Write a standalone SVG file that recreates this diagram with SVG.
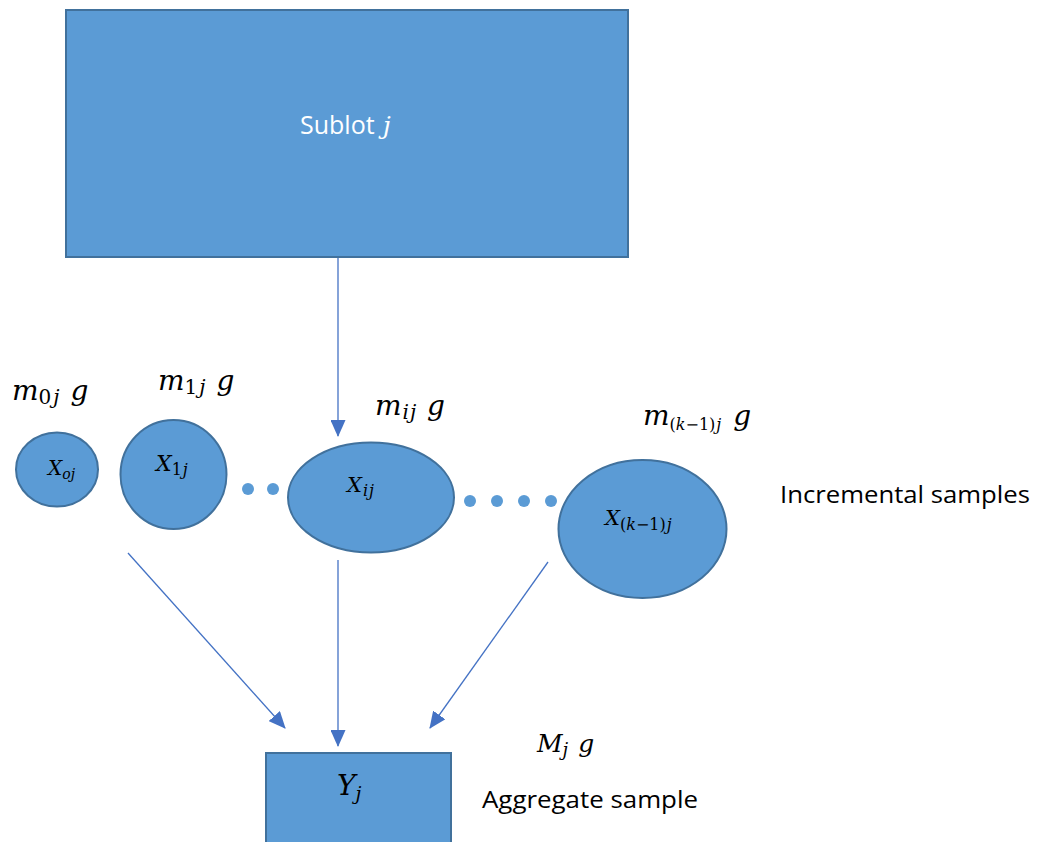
<svg xmlns="http://www.w3.org/2000/svg" width="1041" height="842" viewBox="0 0 1041 842">
  <style>
    .shape { fill: #5B9BD5; stroke: #41719C; stroke-width: 2; }
    .dot { fill: #5B9BD5; }
    .conn { stroke: #4472C4; stroke-width: 1.3; fill: none; marker-end: url(#arrow); }
    .math { font-family: "DejaVu Serif", "Liberation Serif", serif; font-style: italic; fill: #000; }
    .up { font-style: normal; }
    .label { font-family: "Open Sans", "Liberation Sans", sans-serif; fill: #000; }
  </style>
  <defs>
    <marker id="arrow" markerWidth="17" markerHeight="15" refX="16" refY="7.5" orient="auto" markerUnits="userSpaceOnUse">
      <path d="M0,0 L17,7.5 L0,15 Z" fill="#4472C4"/>
    </marker>
  </defs>

  <rect width="1041" height="842" fill="#FFFFFF"/>

  <!-- connectors -->
  <g id="connectors">
    <line class="conn" x1="338" y1="257" x2="338" y2="436"/>
    <line class="conn" x1="128" y1="553" x2="285" y2="728"/>
    <line class="conn" x1="338" y1="560" x2="338" y2="746"/>
    <line class="conn" x1="548" y1="562" x2="430" y2="728"/>
  </g>

  <!-- sublot -->
  <g id="sublot">
    <rect class="shape" x="66" y="10" width="562" height="247"/>
    <text x="300" y="134" font-family="Open Sans, Liberation Sans, sans-serif" font-size="25" fill="#FFFFFF">Sublot <tspan font-family="DejaVu Serif, serif" font-style="italic" dx="2">j</tspan></text>
  </g>

  <!-- incremental samples -->
  <g id="sample-0">
    <ellipse class="shape" cx="57" cy="469.5" rx="41" ry="37"/>
    <text class="math" x="48" y="475" font-size="20">X<tspan font-size="14" dy="4">oj</tspan></text>
    <text class="math" x="12" y="400" font-size="28">m<tspan class="up" font-size="20" dy="4">0</tspan><tspan font-size="20" dx="2">j</tspan><tspan dy="-4" dx="2"> g</tspan></text>
  </g>

  <g id="sample-1">
    <ellipse class="shape" cx="173.5" cy="474.5" rx="53" ry="54.5"/>
    <text class="math" x="156" y="471" font-size="22">X<tspan class="up" font-size="16" dy="4">1</tspan><tspan font-size="16" dx="1">j</tspan></text>
    <text class="math" x="158" y="390" font-size="28">m<tspan class="up" font-size="20" dy="4">1</tspan><tspan font-size="20" dx="2">j</tspan><tspan dy="-4" dx="2"> g</tspan></text>
  </g>

  <g id="dots-left">
    <circle class="dot" cx="248" cy="489" r="6"/>
    <circle class="dot" cx="273" cy="489" r="6"/>
  </g>

  <g id="sample-i">
    <ellipse class="shape" cx="371" cy="497.5" rx="83" ry="55"/>
    <text class="math" x="347" y="492" font-size="21">X<tspan font-size="16" dy="4" dx="1">i</tspan><tspan font-size="16" dx="1">j</tspan></text>
    <text class="math" x="375" y="415" font-size="28">m<tspan font-size="20" dy="4" dx="1">i</tspan><tspan font-size="20" dx="1">j</tspan><tspan dy="-4" dx="2"> g</tspan></text>
  </g>

  <g id="dots-right">
    <circle class="dot" cx="470" cy="501" r="6"/>
    <circle class="dot" cx="497" cy="501" r="6"/>
    <circle class="dot" cx="524" cy="501" r="6"/>
    <circle class="dot" cx="551" cy="501" r="6"/>
  </g>

  <g id="sample-k">
    <ellipse class="shape" cx="642.5" cy="529" rx="84" ry="69"/>
    <text class="math" x="605" y="525" font-size="21">X<tspan class="up" font-size="16" dy="5">(</tspan><tspan font-size="16">k</tspan><tspan class="up" font-size="16">−1)</tspan><tspan font-size="16" dx="1">j</tspan></text>
    <text class="math" x="643" y="425" font-size="28">m<tspan class="up" font-size="16" dy="5">(</tspan><tspan font-size="16">k</tspan><tspan class="up" font-size="16">−1)</tspan><tspan font-size="16" dx="1">j</tspan><tspan dy="-5" dx="3"> g</tspan></text>
  </g>

  <text class="label" x="780" y="503" font-size="24" textLength="250" lengthAdjust="spacingAndGlyphs">Incremental samples</text>

  <!-- aggregate sample -->
  <g id="aggregate">
    <rect class="shape" x="266" y="753" width="185" height="100"/>
    <text class="math" x="337" y="795" font-size="28">Y<tspan font-size="19" dy="5">j</tspan></text>
    <text class="math" x="537" y="752" font-size="25">M<tspan font-size="18" dy="4">j</tspan><tspan dy="-4" dx="2"> g</tspan></text>
  </g>

  <text class="label" x="482" y="808" font-size="24" textLength="216" lengthAdjust="spacingAndGlyphs">Aggregate sample</text>
</svg>
